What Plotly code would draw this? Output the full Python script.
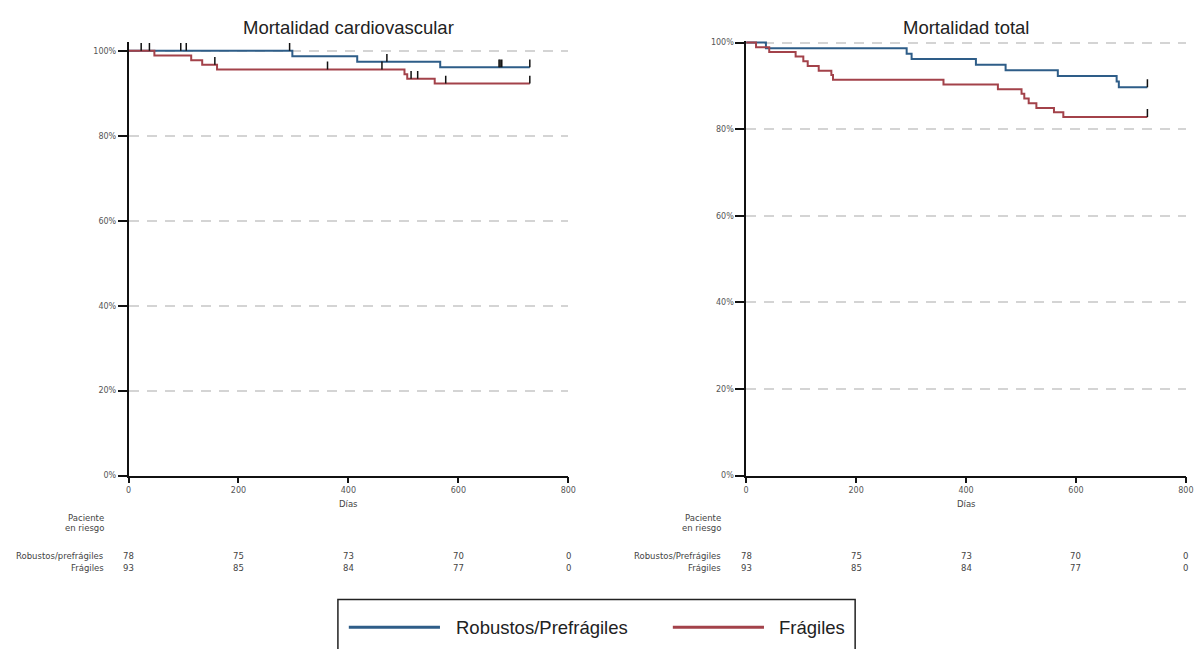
import plotly.graph_objects as go

W, H = 1204, 649

# ---------------- data ----------------
days_ticks = [0, 200, 400, 600, 800]
pct_ticks = [0, 20, 40, 60, 80, 100]
pct_labels = ["0%", "20%", "40%", "60%", "80%", "100%"]

# Mortalidad cardiovascular
cv_rob_t = [0, 298, 416, 567, 730]
cv_rob_s = [100, 98.7, 97.4, 96.1, 96.1]
cv_fra_t = [0, 47, 114, 134, 161, 502, 507, 557, 730]
cv_fra_s = [100, 98.9, 97.8, 96.7, 95.6, 94.5, 93.4, 92.3, 92.3]
cv_rob_cens_t = [23, 38, 95, 105, 293, 470, 674, 676, 679, 730]
cv_rob_cens_s = [100, 100, 100, 100, 100, 97.4, 96.1, 96.1, 96.1, 96.1]
cv_fra_cens_t = [157, 362, 461, 514, 526, 577, 730]
cv_fra_cens_s = [96.7, 95.6, 95.6, 93.4, 93.4, 92.3, 92.3]

# Mortalidad total
tot_rob_t = [0, 36, 292, 301, 418, 472, 567, 674, 678, 730]
tot_rob_s = [100, 98.7, 97.4, 96.2, 94.9, 93.6, 92.3, 91.0, 89.7, 89.7]
tot_fra_t = [0, 18, 42, 90, 104, 112, 132, 155, 158, 359, 458, 501, 506, 514, 528, 560, 577, 730]
tot_fra_s = [100, 98.9, 97.8, 96.8, 95.7, 94.6, 93.5, 92.5, 91.4, 90.3, 89.2, 88.2, 87.1, 86.0, 84.9, 83.9, 82.8, 82.8]
tot_rob_cens_t = [730]
tot_rob_cens_s = [89.7]
tot_fra_cens_t = [730]
tot_fra_cens_s = [82.8]

# Pacientes en riesgo
risk_days = [0, 200, 400, 600, 800]
risk_rob = [78, 75, 73, 70, 0]
risk_fra = [93, 85, 84, 77, 0]

titles = ["Mortalidad cardiovascular", "Mortalidad total"]
row_labels_left = ["Robustos/prefrágiles", "Frágiles"]
row_labels_right = ["Robustos/Prefrágiles", "Frágiles"]
legend_labels = ["Robustos/Prefrágiles", "Frágiles"]

# ---------------- style ----------------
BLUE = "#2e5d88"
RED = "#a3424a"
TICK_LEN = 1.85
SMALL = dict(family="DejaVu Sans", size=8, color="#555")
TABLE = dict(family="DejaVu Sans", size=8.5, color="#444")
BIG = "Liberation Sans"


def px_x(p):
    return p / W


def px_y(p):
    return 1 - p / H


def ticks(ts, ss):
    xs, ys = [], []
    for t, s in zip(ts, ss):
        xs += [t, t, None]
        ys += [s, s + TICK_LEN, None]
    return xs, ys


fig = go.Figure()

panels = [
    ("x", "y", cv_rob_t, cv_rob_s, cv_fra_t, cv_fra_s,
     cv_rob_cens_t, cv_rob_cens_s, cv_fra_cens_t, cv_fra_cens_s),
    ("x2", "y2", tot_rob_t, tot_rob_s, tot_fra_t, tot_fra_s,
     tot_rob_cens_t, tot_rob_cens_s, tot_fra_cens_t, tot_fra_cens_s),
]

for xa, ya, rt, rs, ft, fs, rct, rcs, fct, fcs in panels:
    fig.add_trace(go.Scatter(x=rt, y=rs, mode="lines", line=dict(color=BLUE, width=2, shape="hv"),
                             xaxis=xa, yaxis=ya, showlegend=False, hoverinfo="skip"))
    fig.add_trace(go.Scatter(x=ft, y=fs, mode="lines", line=dict(color=RED, width=2, shape="hv"),
                             xaxis=xa, yaxis=ya, showlegend=False, hoverinfo="skip"))
    for ct, cs in ((rct, rcs), (fct, fcs)):
        tx, ty = ticks(ct, cs)
        fig.add_trace(go.Scatter(x=tx, y=ty, mode="lines", line=dict(color="#111", width=1.5),
                                 xaxis=xa, yaxis=ya, showlegend=False, hoverinfo="skip",
                                 connectgaps=False))

# axes
x_dom_l = [126.7 / W, 570.5 / W]
x_dom_r = [750.0 / W, 1193.8 / W]
y_bot = 478.8


def xaxis(dom, anchor):
    return dict(domain=dom, range=[0, 800], tickvals=days_ticks, ticktext=[str(d) for d in days_ticks],
                ticks="outside", ticklen=6, tickwidth=1.5, tickcolor="#111",
                showline=True, linecolor="#111", linewidth=1.5, showgrid=False, zeroline=False,
                tickfont=SMALL, anchor=anchor, fixedrange=True)


def yaxis(dom, rng, anchor):
    return dict(domain=dom, range=rng, tickvals=pct_ticks, ticktext=pct_labels,
                ticks="outside", ticklen=9, tickwidth=1.5, tickcolor="#111",
                showline=True, linecolor="#111", linewidth=1.5,
                showgrid=True, gridcolor="#d4d4d4", gridwidth=1.6, griddash="10px,8px",
                zeroline=False, tickfont=SMALL, anchor=anchor, fixedrange=True)


annotations = []
shapes = []

# titles
for cx, title in ((sum(x_dom_l) / 2, titles[0]), (sum(x_dom_r) / 2, titles[1])):
    annotations.append(dict(x=cx, y=px_y(26), xref="paper", yref="paper", text=title, showarrow=False,
                            xanchor="center", yanchor="middle", font=dict(family=BIG, size=18.5, color="#222")))

# x titles and risk tables
for xr, lab_x, row_labels in (("x", 103.5, row_labels_left), ("x2", 726.7, row_labels_right)):
    annotations.append(dict(x=400, y=px_y(507), xref=xr, yref="paper", text="Días", showarrow=False,
                            xanchor="center", yanchor="middle", font=TABLE))
    annotations.append(dict(x=px_x(lab_x), y=px_y(521.7), xref="paper", yref="paper", text="Paciente",
                            showarrow=False, xanchor="right", yanchor="middle", font=TABLE))
    annotations.append(dict(x=px_x(lab_x), y=px_y(531.7), xref="paper", yref="paper", text="en riesgo",
                            showarrow=False, xanchor="right", yanchor="middle", font=TABLE))
    for lab, ypx, vals in ((row_labels[0], 560.5, risk_rob), (row_labels[1], 571.7, risk_fra)):
        annotations.append(dict(x=px_x(lab_x), y=px_y(ypx), xref="paper", yref="paper", text=lab,
                                showarrow=False, xanchor="right", yanchor="middle", font=TABLE))
        for d, v in zip(risk_days, vals):
            annotations.append(dict(x=d, y=px_y(ypx), xref=xr, yref="paper", text=str(v),
                                    showarrow=False, xanchor="center", yanchor="middle", font=TABLE))

# legend (drawn)
shapes.append(dict(type="rect", xref="paper", yref="paper", x0=px_x(338), x1=px_x(860),
                   y0=-0.05, y1=px_y(604), line=dict(color="#222", width=1.5), fillcolor="white", layer="below"))
for x0, x1, col, tx, lab in ((349, 441, BLUE, 455, legend_labels[0]), (676, 768, RED, 781, legend_labels[1])):
    shapes.append(dict(type="line", xref="paper", yref="paper", x0=px_x(x0), x1=px_x(x1),
                       y0=px_y(632), y1=px_y(632), line=dict(color=col, width=3)))
    annotations.append(dict(x=px_x(tx), y=px_y(632), xref="paper", yref="paper", text=lab, showarrow=False,
                            xanchor="left", yanchor="middle", font=dict(family=BIG, size=18.5, color="#222")))

fig.update_layout(
    width=W, height=H,
    margin=dict(l=0, r=0, t=0, b=0),
    paper_bgcolor="white", plot_bgcolor="white",
    xaxis=xaxis(x_dom_l, "y"),
    yaxis=yaxis([1 - y_bot / H, 1 - 40 / H], [0, 102.17], "x"),
    xaxis2=xaxis(x_dom_r, "y2"),
    yaxis2=yaxis([1 - y_bot / H, 1 - 39 / H], [0, 100.46], "x2"),
    annotations=annotations,
    shapes=shapes,
    showlegend=False,
)

fig.write_html("out.html")
